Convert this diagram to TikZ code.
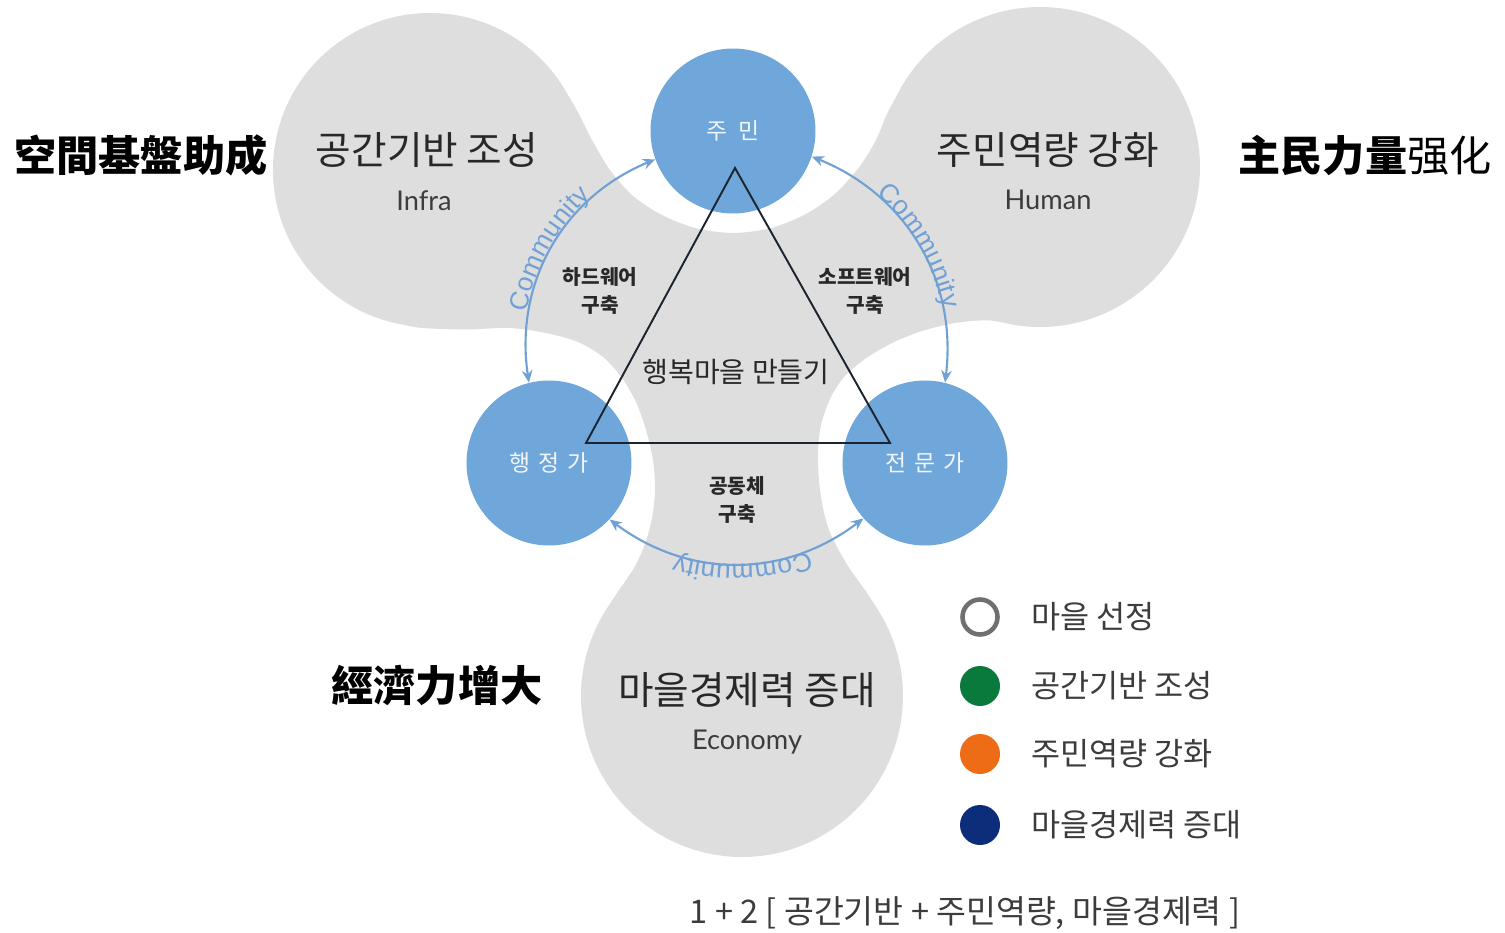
\documentclass[tikz,border=0pt]{standalone}
\usepackage{fontspec}
\setmainfont{Noto Sans CJK KR}
\newfontfamily\krfont{Noto Sans CJK KR}
\newfontfamily\scfont{Noto Sans CJK SC}
\newfontfamily\latofont{Lato}
\newfontfamily\commfont{Liberation Sans}
\usetikzlibrary{arrows.meta,decorations.text,calc}
\definecolor{graybg}{RGB}{222,222,222}
\definecolor{nodeblue}{RGB}{111,167,219}
\definecolor{commblue}{RGB}{112,160,212}
\definecolor{tridark}{RGB}{28,36,48}
\definecolor{txtdark}{RGB}{40,40,40}
\definecolor{txtgray}{RGB}{60,60,60}
\definecolor{leggray}{RGB}{112,112,112}
\definecolor{leggreen}{RGB}{10,122,60}
\definecolor{legorange}{RGB}{238,108,22}
\definecolor{legnavy}{RGB}{12,46,122}
\tikzset{
  bluenode/.style={circle, fill=nodeblue, minimum size=3.3cm, inner sep=0pt,
    text=white!90!nodeblue, font=\krfont\fontsize{13}{15}\selectfont},
  comm/.style={draw=commblue, line width=1.2pt,
    arrows={Stealth[length=7pt,width=6pt]-Stealth[length=7pt,width=6pt]}},
  commtext/.style={decorate, decoration={text along path,
    text={|\commfont\fontsize{15}{15}\selectfont|Community},
    text align=center, raise=2.5pt, text color=commblue}},
  bigtitle/.style={font=\krfont\fontsize{22}{26}\selectfont, text=txtdark},
  subtitle/.style={font=\latofont\fontsize{15.5}{18}\selectfont, text=txtgray},
  smalllabel/.style={font=\krfont\bfseries\fontsize{11.5}{15.5}\selectfont, text=txtdark, align=center},
  hanja/.style={font=\scfont\bfseries\fontsize{24}{28}\selectfont, text=black},
  legdot/.style={circle, minimum size=0.8cm, inner sep=0pt},
  legtext/.style={font=\krfont\fontsize{18}{20}\selectfont, text=txtgray, anchor=west},
}
\begin{document}
\begin{tikzpicture}[x=0.02cm,y=0.02cm]
\useasboundingbox (0,0) rectangle (1505,-933);
% gray background blob: three circles joined by concave fillets
\fill[graybg] (402.7,-324.6) arc[start angle=260, end angle=30, radius=157]
 -- plot[smooth, tension=0.5] coordinates {(566,-91.5) (578.5,-113.2) (592,-140) (610,-170) (632,-195) (660,-214) (695,-228) (733,-233) (771,-228) (806,-214) (836,-193) (860,-166) (876,-140) (887,-114) (898.7,-91.9)}
 arc[start angle=152, end angle=-100, radius=160]
 -- plot[smooth, tension=0.5] coordinates {(1012.2,-324.6) (987.6,-320.3) (955,-323) (922,-331) (892,-343) (865,-359) (844,-377) (830,-399) (821,-425) (818,-452) (819,-480) (823,-508) (831,-535) (848,-566) (866,-591.5) (877,-608.3)}
 arc[start angle=33, end angle=-213, radius=161]
 -- plot[smooth, tension=0.5] coordinates {(607,-608.3) (618,-591.5) (634,-568) (645,-544) (652,-518) (655,-490) (653,-460) (646,-430) (636,-402) (622,-378) (603,-357) (578,-342) (546,-333) (510,-328) (465,-329.5) (422.4,-328) (402.7,-324.6)}
 -- cycle;
% blue nodes
\node[bluenode] (jumin) at (733,-131) {주\hspace{0.5em}민};
\node[bluenode] (haeng) at (549,-463) {행\hspace{0.35em}정\hspace{0.35em}가};
\node[bluenode] (jeon) at (925,-463) {전\hspace{0.35em}문\hspace{0.35em}가};
% triangle
\coordinate (ta) at (735,-168);
\coordinate (tb) at (586,-443);
\coordinate (tc) at (890,-443);
\draw[tridark, line width=1.1pt, line join=miter] (ta) -- (tb) -- (tc) -- cycle;
% community connectors
\draw[comm] (jumin.200) to[bend right=38] (haeng.104);
\draw[comm] (jumin.342) to[bend left=37.5] (jeon.76);
\draw[comm] (haeng.317) to[bend right=37] (jeon.222);
\coordinate (C) at (735,-352);
\path[commtext] ($(C)+(182:208)$) arc[start angle=182, end angle=120, radius=208];
\path[commtext] ($(C)+(61:208)$) arc[start angle=61, end angle=-1, radius=208];
\path[commtext] ($(C)+(303:208)$) arc[start angle=303, end angle=241, radius=208];
% titles
\node[bigtitle] (infraT) at (427,-150) {공간기반 조성};
\node[subtitle] (infraS) at (424,-201) {Infra};
\node[bigtitle] (humanT) at (1048,-150) {주민역량 강화};
\node[subtitle] (humanS) at (1048,-200) {Human};
\node[bigtitle] (econT) at (747,-690) {마을경제력 증대};
\node[subtitle] (econS) at (747,-742) {Economy};
% inner labels
\node[smalllabel] (hw) at (600,-291) {하드웨어\\구축};
\node[smalllabel] (sw) at (865,-291) {소프트웨어\\구축};
\node[smalllabel] (cm) at (737,-500) {공동체\\구축};
\node[font=\krfont\fontsize{16}{18}\selectfont, text=txtdark] (center) at (736,-372) {행복마을 만들기};
% hanja titles
\node[hanja] (h1) at (141,-155) {空間基盤助成};
\node[hanja] (h2) at (1365,-155) {主民力量{\mdseries 强化}};
\node[hanja] (h3) at (437,-685) {經濟力增大};
% legend
\node[legdot, minimum size=0.7cm, fill=white, draw=leggray, line width=2.6pt] (l1) at (980,-617) {};
\node[legdot, fill=leggreen] (l2) at (980,-686) {};
\node[legdot, fill=legorange] (l3) at (980,-754) {};
\node[legdot, fill=legnavy] (l4) at (980,-825) {};
\node[legtext] (t1) at (1025,-617) {마을 선정};
\node[legtext] (t2) at (1025,-686) {공간기반 조성};
\node[legtext] (t3) at (1025,-754) {주민역량 강화};
\node[legtext] (t4) at (1025,-825) {마을경제력 증대};
% formula
\node[font=\krfont\fontsize{18.5}{21}\selectfont, text=txtgray] (formula) at (965,-913) {1 + 2 [ 공간기반 + 주민역량, 마을경제력 ]};
\end{tikzpicture}
\end{document}
